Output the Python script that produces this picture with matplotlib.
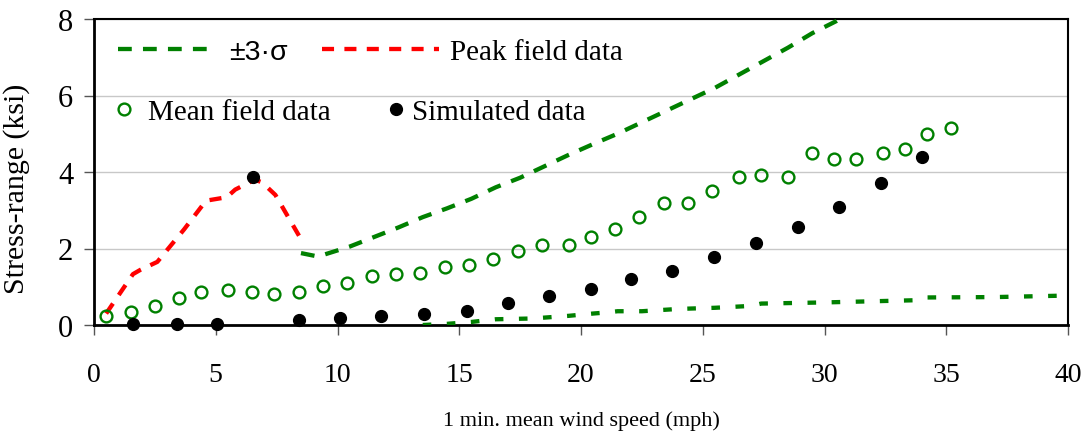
import matplotlib
matplotlib.use('Agg')
import matplotlib.pyplot as plt
from matplotlib.font_manager import FontProperties

# ---- data ----
mean_x = [0.5, 1.5, 2.5, 3.5, 4.4, 5.5, 6.5, 7.4, 8.4, 9.4, 10.4, 11.4, 12.4, 13.4, 14.4,
          15.4, 16.4, 17.4, 18.4, 19.5, 20.4, 21.4, 22.4, 23.4, 24.4, 25.4, 26.5, 27.4,
          28.5, 29.5, 30.4, 31.3, 32.4, 33.3, 34.2, 35.2]
mean_y = [0.24, 0.34, 0.50, 0.71, 0.86, 0.92, 0.86, 0.81, 0.86, 1.02, 1.10, 1.28, 1.33, 1.36,
          1.52, 1.57, 1.73, 1.93, 2.09, 2.09, 2.30, 2.51, 2.82, 3.19, 3.19, 3.50, 3.87, 3.92,
          3.87, 4.50, 4.34, 4.34, 4.50, 4.60, 4.99, 5.15]

sim_x = [1.6, 3.4, 5.05, 6.55, 8.4, 10.1, 11.8, 13.55, 15.3, 17.0, 18.7, 20.4, 22.05, 23.75,
         25.45, 27.2, 28.9, 30.6, 32.3, 34.0]
sim_y = [0.03, 0.03, 0.03, 3.87, 0.12, 0.18, 0.24, 0.29, 0.37, 0.58, 0.76, 0.94, 1.20, 1.41,
         1.78, 2.14, 2.56, 3.08, 3.71, 4.39]

peak_x = [0.5, 1.6, 1.9, 2.6, 3.7, 4.6, 5.45, 5.8, 6.6, 6.9, 7.45, 8.45]
peak_y = [0.30, 1.33, 1.44, 1.65, 2.50, 3.25, 3.34, 3.54, 3.80, 3.73, 3.40, 2.30]

upper_x = [8.5, 9.2, 10.5, 11.5, 12.5, 13.5, 14.5, 15.5, 16.5, 17.5, 18.5, 19.5, 20.5, 21.5,
           22.5, 23.5, 24.5, 25.5, 26.5, 27.5, 28.5, 29.5, 30.5, 31.5]
upper_y = [1.88, 1.79, 2.05, 2.30, 2.55, 2.82, 3.05, 3.30, 3.60, 3.85, 4.15, 4.45, 4.73, 5.00,
           5.30, 5.60, 5.90, 6.20, 6.55, 6.90, 7.25, 7.63, 7.95, 8.35]

lower_x = [13.5, 14.5, 15.5, 16.5, 18.0, 19.5, 20.5, 21.1, 21.5, 22.5, 24.0, 25.5, 27.0, 27.4,
           30.0, 33.9, 34.2, 37.0, 40.0]
lower_y = [0.00, 0.03, 0.08, 0.15, 0.17, 0.24, 0.30, 0.33, 0.36, 0.36, 0.42, 0.45, 0.50, 0.56,
           0.59, 0.65, 0.72, 0.73, 0.77]

x_ticks = [0, 5, 10, 15, 20, 25, 30, 35, 40]
y_ticks = [0, 2, 4, 6, 8]

labels = ['±3·σ', 'Peak field data', 'Mean field data', 'Simulated data']
xlabel = '1 min. mean wind speed (mph)'
ylabel = 'Stress-range (ksi)'

GREEN = '#008000'
RED = '#ff0000'
SERIF = 'Liberation Serif'

fig = plt.figure(figsize=(10.84, 4.35), dpi=100)
ax = fig.add_axes([94 / 1084, 109 / 435, 974 / 1084, 306 / 435])

h_up, = ax.plot(upper_x, upper_y, color=GREEN, lw=3.1, dashes=(3.2, 2.6), dash_capstyle='butt', zorder=3)
ax.plot(lower_x, lower_y, color=GREEN, lw=3.1, dashes=(2.0, 3.6), dash_capstyle='butt', zorder=3)
h_pk, = ax.plot(peak_x, peak_y, color=RED, lw=3.1, dashes=(2.8, 2.4), dash_capstyle='butt', zorder=3)
h_mean, = ax.plot(mean_x, mean_y, 'o', mfc='none', mec=GREEN, ms=8.5, mew=1.7, clip_on=False, zorder=4)
h_sim, = ax.plot(sim_x, sim_y, 'o', color='black', ms=8.5, clip_on=False, zorder=5)

ax.set_xlim(0, 40)
ax.set_ylim(0, 8)
ax.set_xticks(x_ticks)
ax.set_yticks(y_ticks)
ax.grid(axis='y', color='#c8c8c8', lw=1)
ax.set_axisbelow(True)

for s in ax.spines.values():
    s.set_color('black')
    s.set_linewidth(1.5)
ax.spines['bottom'].set_linewidth(2)
ax.spines['left'].set_linewidth(2)

ax.tick_params(axis='x', direction='out', length=7, width=1, color='#555555', pad=20)
ax.tick_params(axis='y', direction='out', length=7, width=1, color='#555555', pad=8)
for lab in ax.get_xticklabels():
    lab.set_fontfamily(SERIF)
    lab.set_fontsize(20)
for lab in ax.get_yticklabels():
    lab.set_fontfamily(SERIF)
    lab.set_fontsize(22)

ax.set_ylabel(ylabel, fontfamily=SERIF, fontsize=21.5)
ax.yaxis.set_label_coords(-0.0657, 0.448)
ax.set_xlabel(xlabel, fontfamily=SERIF, fontsize=16)
ax.xaxis.set_label_coords(0.5, -0.28)

common = dict(loc='center left', frameon=False, borderpad=0, borderaxespad=0, numpoints=1)
fp_serif = FontProperties(family=SERIF, size=21)
fp_sans = FontProperties(family='Liberation Sans', size=20.5)

leg1 = ax.legend([h_up], [labels[0]], bbox_to_anchor=(0.0246, 0.892), handlelength=3.3,
                 handletextpad=0.6, prop=fp_sans, **common)
ax.add_artist(leg1)
leg2 = ax.legend([h_pk], [labels[1]], bbox_to_anchor=(0.234, 0.892), handlelength=4.0,
                 handletextpad=0.4, prop=fp_serif, **common)
ax.add_artist(leg2)
leg3 = ax.legend([h_mean], [labels[2]], bbox_to_anchor=(0.0185, 0.696), handlelength=0.8,
                 handletextpad=0.45, prop=fp_serif, **common)
ax.add_artist(leg3)
leg4 = ax.legend([h_sim], [labels[3]], bbox_to_anchor=(0.303, 0.696), handlelength=0.5,
                 handletextpad=0.3, prop=fp_serif, **common)

fig.savefig('out.png', dpi=100)
